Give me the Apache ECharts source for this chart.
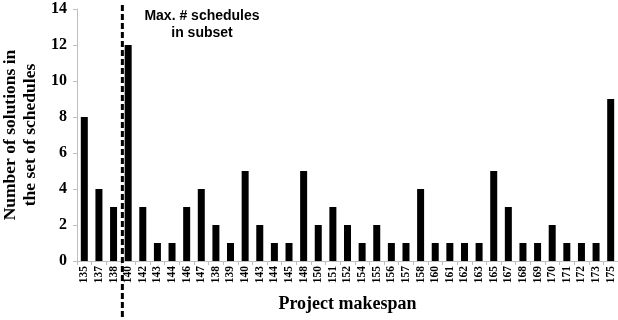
<!DOCTYPE html>
<html>
<head>
<meta charset="utf-8">
<script src="https://cdn.jsdelivr.net/npm/echarts@6/dist/echarts.min.js"></script>
<style>
  html, body { margin: 0; padding: 0; background: #fff; }
  #chart { width: 618px; height: 320px; }
</style>
</head>
<body>
<div id="chart"></div>
<script>
// Makespan labels (the sequence repeats some makespans, so bars are positioned by index)
const makespanLabels = [
  '135','137','138','140','142','143','144','146','147','138','139','140','143',
  '144','145','148','150','151','152','154','155','156','157','158','160','161',
  '162','163','165','167','168','169','170','171','172','173','175'
];
// Number of solutions for each makespan
const solutionCounts = [
  8,4,3,12,3,1,1,3,4,2,1,5,2,1,1,5,2,3,2,1,2,1,1,4,1,1,1,1,5,3,1,1,2,1,1,1,9
];
const yTicks = [0, 2, 4, 6, 8, 10, 12, 14];
// Divider sits between these two bar positions
const subsetBoundary = [2, 3];

const serif = '"Liberation Serif", "Times New Roman", serif';
const sans = '"Liberation Sans", Arial, sans-serif';

const chart = echarts.init(document.getElementById('chart'));
chart.setOption({
  animation: false,
  grid: { left: 77, right: 0, top: 9, bottom: 59, containLabel: false, outerBoundsMode: 'none' },
  xAxis: {
    type: 'category',
    data: makespanLabels.map((_, i) => i),
    boundaryGap: true,
    name: 'Project makespan',
    nameLocation: 'middle',
    nameGap: 34,
    nameTextStyle: { fontFamily: serif, fontWeight: 'bold', fontSize: 18, color: '#000' },
    axisLine: { lineStyle: { color: '#bfbfbf', width: 1 } },
    axisTick: { show: true, alignWithLabel: false, length: 4, lineStyle: { color: '#bfbfbf' } },
    axisLabel: {
      interval: 0,
      rotate: 90,
      margin: 5,
      fontFamily: serif,
      fontWeight: 'bold',
      fontSize: 11.5,
      color: '#000',
      formatter: (v) => makespanLabels[v]
    }
  },
  yAxis: {
    type: 'value',
    min: yTicks[0],
    max: yTicks[yTicks.length - 1],
    interval: 2,
    name: 'Number of solutions in\nthe set of schedules',
    nameLocation: 'middle',
    nameGap: 35,
    nameTextStyle: { fontFamily: serif, fontWeight: 'bold', fontSize: 17.5, color: '#000', lineHeight: 20 },
    axisLine: { show: true, lineStyle: { color: '#bfbfbf', width: 1 } },
    axisTick: { show: true, length: 4, lineStyle: { color: '#bfbfbf' } },
    splitLine: { show: false },
    axisLabel: { fontFamily: serif, fontWeight: 'bold', fontSize: 16, color: '#000', margin: 10 }
  },
  series: [{
    type: 'bar',
    data: solutionCounts,
    barWidth: 7,
    itemStyle: { color: '#000' }
  }]
});

// Dashed divider marking the subset limit, plus its caption
const xa = chart.convertToPixel({ xAxisIndex: 0 }, subsetBoundary[0]);
const xb = chart.convertToPixel({ xAxisIndex: 0 }, subsetBoundary[1]);
const xDiv = (xa + xb) / 2 + 1.5;
chart.setOption({
  graphic: [
    {
      type: 'line',
      shape: { x1: xDiv, y1: 5, x2: xDiv, y2: 320 },
      style: { stroke: '#000', lineWidth: 3, lineDash: [6, 3] },
      z: 100
    },
    {
      type: 'text',
      x: 202, y: 8,
      style: {
        text: 'Max. # schedules\nin subset',
        fontFamily: sans, fontWeight: 'bold', fontSize: 14,
        fill: '#000', align: 'center', verticalAlign: 'top', lineHeight: 17
      }
    }
  ]
});
</script>
</body>
</html>
